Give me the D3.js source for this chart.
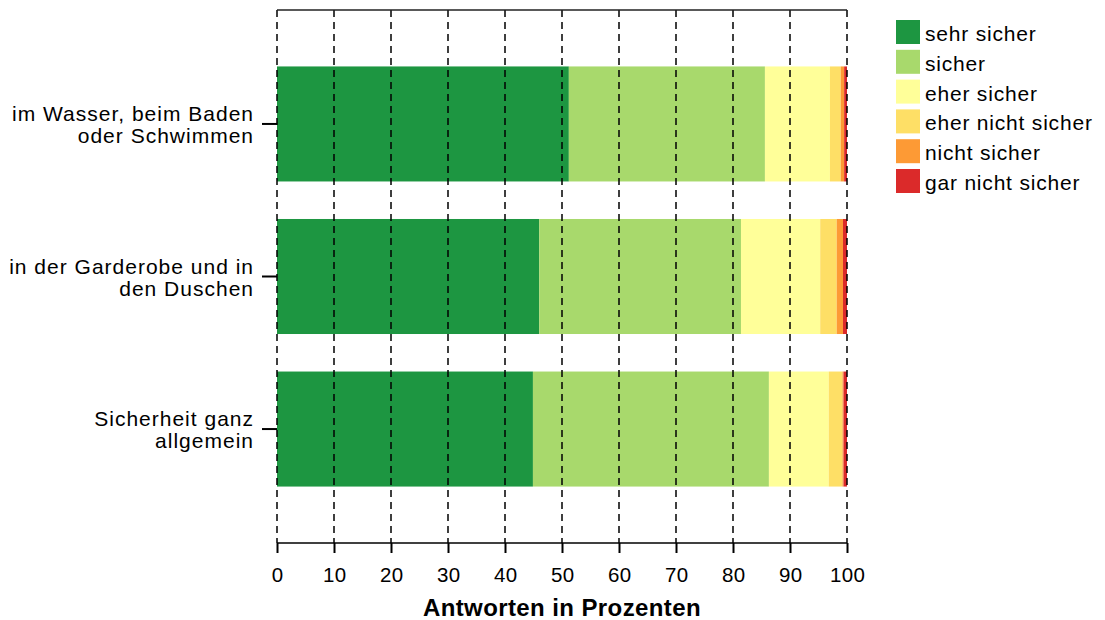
<!DOCTYPE html>
<html><head><meta charset="utf-8">
<script src="https://cdn.jsdelivr.net/npm/d3@7"></script>
<style>body{margin:0;background:#fff}svg{display:block;font-family:"Liberation Sans",Arial,sans-serif}</style>
</head><body><svg id="c" width="1105" height="620"></svg>
<script>
const categories = [["im Wasser, beim Baden","oder Schwimmen"],["in der Garderobe und in","den Duschen"],["Sicherheit ganz","allgemein"]];
const seriesNames = ["sehr sicher","sicher","eher sicher","eher nicht sicher","nicht sicher","gar nicht sicher"];
const colors = ["#1d9641","#a8d96c","#ffff99","#fedf66","#fd9a35","#db2a2a"];
const sehrSicher = [51.2, 46.0, 44.9];
const sicher = [34.4, 35.4, 41.4];
const eherSicher = [11.4, 13.9, 10.5];
const eherNicht = [1.9, 2.9, 2.4];
const nichtSicher = [0.6, 1.1, 0.2];
const garNicht = [0.5, 0.7, 0.6];
const xTicks = [0,10,20,30,40,50,60,70,80,90,100];
const xTitle = "Antworten in Prozenten";

const series = [sehrSicher, sicher, eherSicher, eherNicht, nichtSicher, garNicht];
const svg = d3.select("#c");
const L=277, R=847, T=10, B=543;
const x = d3.scaleLinear().domain([0,100]).range([L,R]);
const y = d3.scaleBand().domain(d3.range(categories.length)).range([T,B]).paddingInner(0.246).paddingOuter(0.37);

// bars
categories.forEach((c,i)=>{
  let acc=0;
  series.forEach((s,k)=>{
    svg.append("rect").attr("x",x(acc)).attr("y",y(i)).attr("width",x(acc+s[i])-x(acc)).attr("height",y.bandwidth()).attr("fill",colors[k]);
    acc+=s[i];
  });
});
// grid (dashed)
svg.append("g").selectAll("line").data(xTicks).join("line")
  .attr("x1",d=>x(d)).attr("x2",d=>x(d)).attr("y1",T).attr("y2",B)
  .attr("stroke","#000").attr("stroke-width",1.5).attr("stroke-dasharray","7,5");
// top border
svg.append("line").attr("x1",L).attr("x2",R).attr("y1",T).attr("y2",T).attr("stroke","#222").attr("stroke-width",1.5);
// x axis
const xa = svg.append("g").attr("transform",`translate(0,${B})`).call(d3.axisBottom(x).tickValues(xTicks).tickSize(10).tickPadding(10));
xa.select(".domain").attr("stroke","#000").attr("stroke-width",1.5).attr("d",`M${L},0H${R}`);
xa.selectAll(".tick line").attr("stroke","#000").attr("stroke-width",2);
xa.selectAll(".tick text").attr("font-size",20.5).attr("letter-spacing","0.4px").attr("fill","#000")
  .attr("font-family","Liberation Sans, Arial, sans-serif").attr("dy",null).attr("y",39).attr("dx","0.2px");
svg.append("text").attr("x",(L+R)/2).attr("y",616).attr("text-anchor","middle").attr("font-size",24)
  .attr("letter-spacing","0.4px").attr("font-weight","bold").text(xTitle);
// y labels
categories.forEach((c,i)=>{
  const cy = y(i)+y.bandwidth()/2;
  svg.append("line").attr("x1",L-15).attr("x2",L).attr("y1",cy).attr("y2",cy).attr("stroke","#000").attr("stroke-width",2);
  const t = svg.append("text").attr("text-anchor","end").attr("font-size",21).attr("letter-spacing","1px").attr("fill","#000");
  c.forEach((ln,j)=>t.append("tspan").attr("x",L-23).attr("y",cy-3+j*22).text(ln));
});
// legend
const lg = svg.append("g");
seriesNames.forEach((n,k)=>{
  const yy = 20 + k*29.8;
  lg.append("rect").attr("x",896).attr("y",yy).attr("width",24).attr("height",24).attr("fill",colors[k]);
  lg.append("text").attr("x",925).attr("y",yy+21).attr("font-size",21).attr("letter-spacing","0.8px").attr("fill","#000").text(n);
});
</script></body></html>
